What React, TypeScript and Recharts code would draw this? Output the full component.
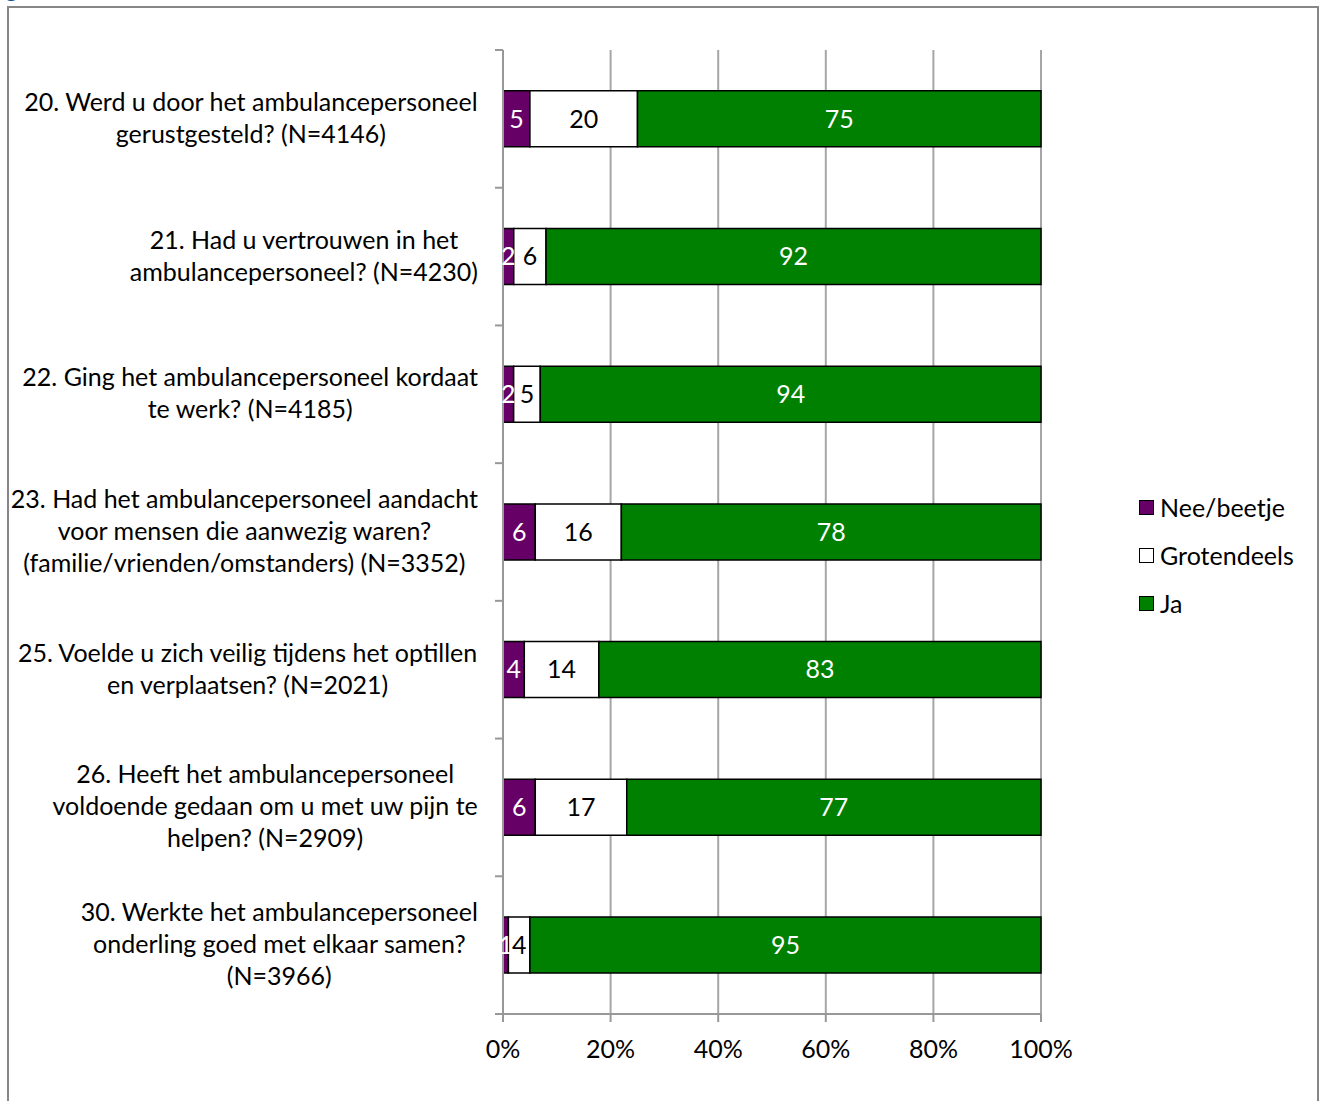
import React from 'react';
import { BarChart, Bar, XAxis, YAxis, CartesianGrid, LabelList } from 'recharts';

const FONT = 'Lato, "Open Sans", sans-serif';
const FONT_SIZE = 25;

const categories = [
  '20. Werd u door het ambulancepersoneel\ngerustgesteld? (N=4146)',
  '21. Had u vertrouwen in het\nambulancepersoneel? (N=4230)',
  '22. Ging het ambulancepersoneel kordaat\nte werk? (N=4185)',
  '23. Had het ambulancepersoneel aandacht\nvoor mensen die aanwezig waren?\n(familie/vrienden/omstanders) (N=3352)',
  '25. Voelde u zich veilig tijdens het optillen\nen verplaatsen? (N=2021)',
  '26. Heeft het ambulancepersoneel\nvoldoende gedaan om u met uw pijn te\nhelpen? (N=2909)',
  '30. Werkte het ambulancepersoneel\nonderling goed met elkaar samen?\n(N=3966)',
];
const neeBeetje = [5, 2, 2, 6, 4, 6, 1];
const grotendeels = [20, 6, 5, 16, 14, 17, 4];
const ja = [75, 92, 94, 78, 83, 77, 95];
const xTicks = [0, 0.2, 0.4, 0.6, 0.8, 1];

const series = [
  { key: 'nee', name: 'Nee/beetje', color: '#660066', text: '#ffffff' },
  { key: 'groot', name: 'Grotendeels', color: '#ffffff', text: '#000000' },
  { key: 'ja', name: 'Ja', color: '#008000', text: '#ffffff' },
];

const data = categories.map((name, i) => ({
  name,
  nee: neeBeetje[i],
  groot: grotendeels[i],
  ja: ja[i],
}));

const W = 1325;
const H = 1101;
const X_AXIS_H = 30;
const MARGIN = { top: 50, right: 284, bottom: 57, left: 0 };
const Y_AXIS_W = 503;
const BAND = (H - MARGIN.top - MARGIN.bottom - X_AXIS_H) / categories.length;
const AXIS_GRAY = '#989898';

let ctx: CanvasRenderingContext2D | null = null;
const measure = (s: string) => {
  if (!ctx) ctx = document.createElement('canvas').getContext('2d');
  if (!ctx) return s.length * FONT_SIZE * 0.5;
  ctx.font = `${FONT_SIZE}px ${FONT}`;
  return ctx.measureText(s).width;
};

const CategoryTick = (props: any) => {
  const { y, payload, index } = props;
  const lines: string[] = String(payload.value).split('\n');
  const blockW = Math.max(...lines.map(measure));
  const cx = Y_AXIS_W - 25 - blockW / 2;
  const lh = 32;
  const y0 = y - 2 - ((lines.length - 1) * lh) / 2;
  return (
    <g>
      <line x1={Y_AXIS_W - 8} x2={Y_AXIS_W} y1={y - BAND / 2} y2={y - BAND / 2} stroke={AXIS_GRAY} strokeWidth={2} />
      {index === categories.length - 1 && (
        <line x1={Y_AXIS_W - 8} x2={Y_AXIS_W} y1={y + BAND / 2} y2={y + BAND / 2} stroke={AXIS_GRAY} strokeWidth={2} />
      )}
      {lines.map((l, i) => (
        <text key={i} x={cx} y={y0 + i * lh} textAnchor="middle" dominantBaseline="central"
          fontFamily={FONT} fontSize={FONT_SIZE} fill="#000">
          {l}
        </text>
      ))}
    </g>
  );
};

const App: React.FC = () => {
  return (
    <div style={{ position: 'absolute', left: 0, top: 0, width: W, height: H, background: '#fff', overflow: 'hidden' }}>
      <div style={{ position: 'absolute', left: 5, top: -30, color: '#1f4e99', fontFamily: FONT, fontSize: 26 }}>g</div>
      <div style={{ position: 'absolute', left: 7, top: 6, width: 1312, height: 1200, border: '2px solid #878787', boxSizing: 'border-box' }} />
      <div style={{ position: 'absolute', left: 0, top: 0 }}>
        <BarChart width={W} height={H} data={data} layout="vertical" stackOffset="expand"
          margin={MARGIN} barCategoryGap="29.6%">
          <CartesianGrid horizontal={false} stroke="#a6a6a6" strokeWidth={2} />
          <XAxis type="number" domain={[0, 1]} ticks={xTicks} interval={0} height={X_AXIS_H}
            tickFormatter={(v: number) => `${Math.round(v * 100)}%`}
            tickSize={8} tickMargin={18}
            axisLine={{ stroke: AXIS_GRAY, strokeWidth: 2 }}
            tickLine={{ stroke: AXIS_GRAY, strokeWidth: 2 }}
            tick={{ fill: '#000', fontFamily: FONT, fontSize: FONT_SIZE }} />
          <YAxis type="category" dataKey="name" width={Y_AXIS_W} interval={0}
            tickLine={false} axisLine={{ stroke: AXIS_GRAY, strokeWidth: 2 }}
            tick={(p: any) => <CategoryTick {...p} />} />
          {series.map((s) => (
            <Bar key={s.key} dataKey={s.key} name={s.name} stackId="a" fill={s.color}
              stroke="#000" strokeWidth={1.5} isAnimationActive={false}>
              <LabelList dataKey={s.key} position="center" fill={s.text}
                fontFamily={FONT} fontSize={FONT_SIZE} />
            </Bar>
          ))}
        </BarChart>
      </div>
      <div style={{ position: 'absolute', left: 1139, top: 483, fontFamily: FONT, fontSize: FONT_SIZE }}>
        {series.map((s) => (
          <div key={s.key} style={{ display: 'flex', alignItems: 'center', height: 48 }}>
            <span style={{ display: 'inline-block', width: 15, height: 15, background: s.color, border: '1.5px solid #000', marginRight: 6, boxSizing: 'border-box' }} />
            <span>{s.name}</span>
          </div>
        ))}
      </div>
    </div>
  );
};

export default App;
